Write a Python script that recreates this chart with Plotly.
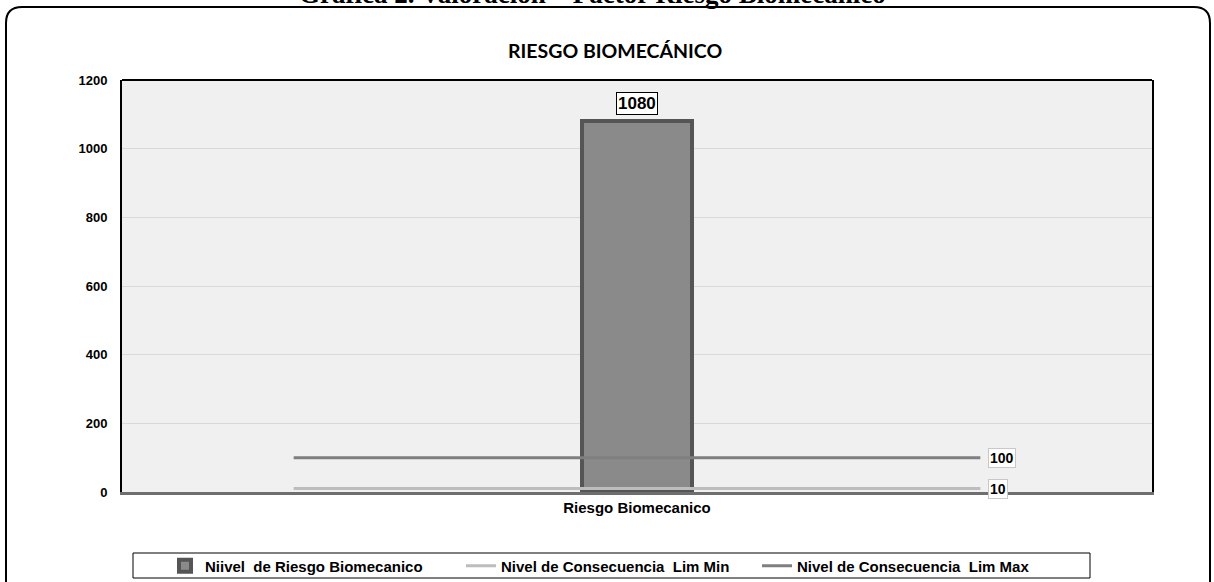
import plotly.graph_objects as go

# ---- data ----
categories = ["", "Riesgo Biomecanico", ""]
x_idx = [0, 1, 2]
nivel_riesgo = [None, 1080, None]
lim_min = [10, 10, 10]
lim_max = [100, 100, 100]
y_ticks = [0, 200, 400, 600, 800, 1000, 1200]

names = ["Niivel  de Riesgo Biomecanico",
         "Nivel de Consecuencia  Lim Min",
         "Nivel de Consecuencia  Lim Max"]

W, H = 1214, 582
L, R, T, B = 122, 62, 80, 90
PW, PH = W - L - R, H - T - B


def px(xp):
    return (xp - L) / PW


def py(yp):
    return (H - B - yp) / PH


fig = go.Figure()
fig.add_trace(go.Bar(
    x=x_idx, y=nivel_riesgo, name=names[0], width=0.32,
    marker=dict(color="#8a8a8a", line=dict(color="#555555", width=4)),
))
fig.add_trace(go.Scatter(
    x=x_idx, y=lim_min, name=names[1], mode="lines",
    line=dict(color="#bdbdbd", width=3),
))
fig.add_trace(go.Scatter(
    x=x_idx, y=lim_max, name=names[2], mode="lines",
    line=dict(color="#7f7f7f", width=3),
))

# data labels
for xi, v in zip(x_idx, nivel_riesgo):
    if v is not None:
        fig.add_annotation(x=xi, y=v, text=f"<b>{v}</b>", showarrow=False,
                           yanchor="bottom", yshift=6,
                           font=dict(family="Arial", size=17, color="black"),
                           bgcolor="white", bordercolor="black", borderwidth=1, borderpad=1)
for series in (lim_max, lim_min):
    fig.add_annotation(x=x_idx[-1], y=series[-1], text=f"<b>{series[-1]}</b>", showarrow=False,
                       xanchor="left", xshift=8,
                       font=dict(family="Arial", size=14, color="black"),
                       bgcolor="white", bordercolor="#c8c8c8", borderwidth=1, borderpad=1)

# chart title
fig.add_annotation(xref="paper", yref="paper", x=px(615), y=py(50), xanchor="center", yanchor="middle",
                   text="<b>RIESGO BIOMECÁNICO</b>",
                   showarrow=False, font=dict(family="Lato", size=19.5, color="black"))
# cut-off document caption
fig.add_annotation(xref="paper", yref="paper", x=px(592), y=py(-6), xanchor="center", yanchor="middle",
                   text="<b>Gráfica 2. Valoración – Factor Riesgo Biomecánico</b>",
                   showarrow=False, font=dict(family="Liberation Serif", size=27, color="black"))

# outer rounded frame
x0, y0, x1, y1, r = 6, 7, 1210, 600, 16
path = (f"M {px(x0)},{py(y0 + r)} Q {px(x0)},{py(y0)} {px(x0 + r)},{py(y0)} "
        f"L {px(x1 - r)},{py(y0)} Q {px(x1)},{py(y0)} {px(x1)},{py(y0 + r)} "
        f"L {px(x1)},{py(y1)} M {px(x0)},{py(y0 + r)} L {px(x0)},{py(y1)}")
fig.add_shape(type="path", xref="paper", yref="paper", path=path,
              line=dict(color="black", width=2))
# top border of plot area
fig.add_shape(type="line", xref="paper", yref="paper", x0=0, x1=1, y0=1, y1=1,
              line=dict(color="black", width=2))
# legend frame
fig.add_shape(type="rect", xref="paper", yref="paper", x0=px(133), x1=px(1090), y0=py(553), y1=py(578),
              line=dict(color="black", width=1))

fig.update_layout(
    width=W, height=H,
    margin=dict(l=L, r=R, t=T, b=B, autoexpand=False),
    paper_bgcolor="white",
    plot_bgcolor="#f0f0f0",
    font=dict(family="Arial", size=13, color="black"),
    showlegend=True,
    legend=dict(orientation="h", x=165 / W, y=1 - 566 / H, xref="container", yref="container",
                xanchor="left", yanchor="middle",
                font=dict(family="Arial", size=15, color="black", weight="bold"),
                entrywidth=251, entrywidthmode="pixels", bgcolor="rgba(0,0,0,0)",
                traceorder="normal", itemwidth=30),
    bargap=0,
)
fig.update_xaxes(range=[-0.5, 2.5], tickmode="array", tickvals=[1], ticktext=["<b>Riesgo Biomecanico</b>"],
                 tickfont=dict(size=15), showgrid=False, zeroline=False,
                 showline=True, linecolor="#6e6e6e", linewidth=3, ticks="", fixedrange=True)
fig.update_yaxes(range=[0, 1200], tickmode="array", tickvals=y_ticks,
                 ticktext=[f"<b>{t}</b>" for t in y_ticks],
                 showgrid=True, gridcolor="#d9d9d9", gridwidth=1, zeroline=False,
                 showline=True, linecolor="black", linewidth=2, mirror=True,
                 ticks="outside", ticklen=10, tickcolor="rgba(0,0,0,0)")

fig.write_html("out.html", config={"displayModeBar": False},
               post_script="document.body.style.margin='0px';")
